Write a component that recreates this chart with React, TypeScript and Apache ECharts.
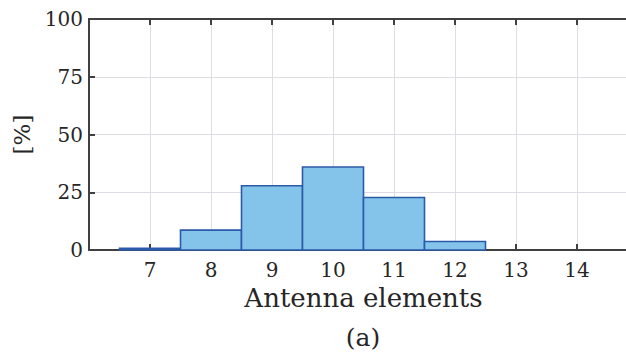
import React, { useEffect, useRef } from "react";
import * as echarts from "echarts";

const elements = [7, 8, 9, 10, 11, 12, 13, 14];
const percentages = [0.7, 8.6, 27.8, 35.9, 22.7, 3.7, 0, 0];
const yTicks = [0, 25, 50, 75, 100];

const FONT = "DejaVu Serif";
const TEXT_COLOR = "#262626";
const AXIS_COLOR = "#404040";
const GRID_COLOR = "#dcdde5";

export default function App() {
  const ref = useRef<HTMLDivElement>(null);
  useEffect(() => {
    if (!ref.current) return;
    const chart = echarts.init(ref.current, undefined, { renderer: "svg" });
    const data = elements.map((e, i) => [e, percentages[i]]);
    const xCommon = {
      type: "value" as const,
      min: 6,
      max: 15,
      interval: 1,
    };
    chart.setOption({
      animation: false,
      backgroundColor: "#ffffff",
      textStyle: { fontFamily: FONT },
      grid: { left: 89, top: 19, right: 2, bottom: 108, containLabel: false },
      xAxis: [
        {
          ...xCommon,
          position: "bottom",
          name: "Antenna elements",
          nameLocation: "middle",
          nameGap: 27,
          nameTextStyle: { fontFamily: FONT, fontSize: 26, color: TEXT_COLOR },
          axisLine: { show: true, onZero: false, lineStyle: { color: AXIS_COLOR, width: 2 } },
          axisTick: { show: true, inside: true, length: 6, lineStyle: { color: AXIS_COLOR, width: 2 } },
          axisLabel: {
            fontFamily: FONT,
            fontSize: 20,
            color: TEXT_COLOR,
            margin: 10,
            showMinLabel: false,
            showMaxLabel: false,
          },
          splitLine: { show: true, lineStyle: { color: GRID_COLOR, width: 1 } },
        },
        {
          ...xCommon,
          position: "top",
          axisLine: { show: true, onZero: false, lineStyle: { color: AXIS_COLOR, width: 2 } },
          axisTick: { show: true, inside: true, length: 6, lineStyle: { color: AXIS_COLOR, width: 2 } },
          axisLabel: { show: false },
          splitLine: { show: false },
        },
      ],
      yAxis: {
        type: "value",
        min: yTicks[0],
        max: yTicks[yTicks.length - 1],
        interval: 25,
        name: "[%]",
        nameLocation: "middle",
        nameGap: 44,
        nameRotate: 90,
        nameTextStyle: { fontFamily: FONT, fontSize: 23, color: TEXT_COLOR },
        axisLine: { show: true, lineStyle: { color: AXIS_COLOR, width: 2 } },
        axisTick: { show: true, inside: true, length: 6, lineStyle: { color: AXIS_COLOR, width: 2 } },
        axisLabel: { fontFamily: FONT, fontSize: 20, color: TEXT_COLOR, margin: 6 },
        splitLine: { show: true, lineStyle: { color: GRID_COLOR, width: 1 } },
      },
      graphic: [
        {
          type: "text",
          x: 363,
          y: 337,
          style: {
            text: "(a)",
            fontFamily: FONT,
            fontSize: 25,
            fill: TEXT_COLOR,
            textAlign: "center",
            textVerticalAlign: "middle",
          },
        },
      ],
      series: [
        {
          type: "custom",
          xAxisIndex: 0,
          data,
          renderItem: (params: any, api: any) => {
            const x = api.value(0);
            const v = api.value(1);
            if (!v) return null;
            const p0 = api.coord([x - 0.5, 0]);
            const p1 = api.coord([x + 0.5, v]);
            return {
              type: "rect",
              shape: { x: p0[0], y: p1[1], width: p1[0] - p0[0], height: p0[1] - p1[1] },
              style: { fill: "#85c4ea", stroke: "#2b5aa8", lineWidth: 1.6 },
            };
          },
          encode: { x: 0, y: 1 },
          z: 2,
        },
      ],
    });
    return () => chart.dispose();
  }, []);
  return (
    <div
      style={{
        position: "absolute",
        left: 0,
        top: 0,
        width: 626,
        height: 358,
        overflow: "hidden",
        background: "#fff",
      }}
    >
      <div ref={ref} style={{ width: 640, height: 358 }} />
    </div>
  );
}
